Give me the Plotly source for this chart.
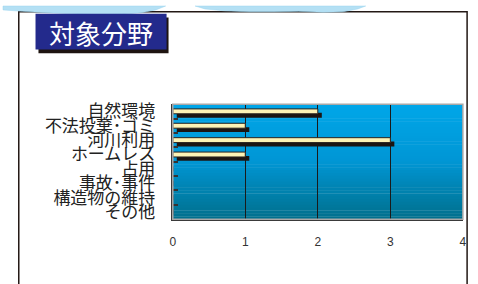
import plotly.graph_objects as go

# ---- data ----
categories = ["自然環境", "不法投棄･ゴミ", "河川利用", "ホームレス", "占用", "事故･事件", "構造物の維持", "その他"]
values = [2, 1, 3, 1, 0, 0, 0, 0]
x_ticks = [0, 1, 2, 3, 4]
title_text = "対象分野"

# ---- style ----
W, H = 478, 284
SHADOW_DX = 0.055
BAR_W = 0.34
SHADOW_DY = 0.27
JP = "Noto Sans CJK JP"


def px(x):
    return x / W


def py(y):
    return 1 - y / H


fig = go.Figure()
fig.add_trace(go.Bar(
    y=categories, x=values, base=SHADOW_DX, orientation="h",
    width=BAR_W, offset=-BAR_W / 2 + SHADOW_DY,
    marker=dict(color="#1c1512", line=dict(width=0)),
    hoverinfo="skip", showlegend=False))
fig.add_trace(go.Bar(
    y=categories, x=values, orientation="h",
    width=BAR_W, offset=-BAR_W / 2,
    marker=dict(color="#fdf3b6", line=dict(color="#2a2420", width=1)),
    showlegend=False))

shapes = []
# gradient background of plot area
top = (0, 166, 232)
mid = (0, 150, 212)
bot = (0, 112, 142)
N = 40
for i in range(N):
    t = i / (N - 1)
    if t < 0.5:
        u = t / 0.5
        c = tuple(round(top[k] + (mid[k] - top[k]) * u) for k in range(3))
    else:
        u = (t - 0.5) / 0.5
        c = tuple(round(mid[k] + (bot[k] - mid[k]) * u) for k in range(3))
    y1 = 1 - i / N
    y0 = 1 - (i + 1) / N
    shapes.append(dict(type="rect", xref="x domain", yref="y domain",
                       x0=0, x1=1, y0=y0 - 0.002, y1=y1 + 0.002, layer="below",
                       fillcolor="rgb(%d,%d,%d)" % c, line=dict(width=0)))
# light border top/right
shapes.append(dict(type="rect", xref="x domain", yref="y domain", x0=0, x1=1, y0=0, y1=1,
                   line=dict(color="#a8a8a8", width=1.5), layer="above"))

# outer frame
shapes.append(dict(type="rect", xref="paper", yref="paper",
                   x0=px(16), x1=px(471), y0=py(292), y1=py(5),
                   line=dict(color="#231815", width=1.5)))

# cloud decorations
def path(points):
    s = "M %f,%f" % (px(points[0][0]), py(points[0][1]))
    for (x, y) in points[1:]:
        s += " L %f,%f" % (px(x), py(y))
    return s + " Z"

cloud1 = [(0, -1), (0, 3), (20, 4.5), (45, 6), (70, 7), (95, 8), (120, 7.5), (140, 6), (155, 3), (165, -1)]
cloud2 = [(195, -1), (205, 2), (225, 4), (250, 5), (275, 5), (300, 4.5), (325, 5.5), (345, 5), (360, 2), (368, -1)]
for c in (cloud1, cloud2):
    shapes.append(dict(type="path", xref="paper", yref="paper", path=path(c),
                       fillcolor="#b4e0f4", line=dict(color="#9ad4ef", width=0.5)))

# title box and shadow
shapes.append(dict(type="rect", xref="paper", yref="paper",
                   x0=px(36), x1=px(168), y0=py(48), y1=py(11),
                   fillcolor="#1e1410", line=dict(width=0)))
shapes.append(dict(type="rect", xref="paper", yref="paper",
                   x0=px(33), x1=px(166), y0=py(44), y1=py(7),
                   fillcolor="#232a8c", line=dict(width=0)))

fig.update_layout(
    width=W, height=H,
    margin=dict(l=0, r=0, t=0, b=0),
    paper_bgcolor="white",
    plot_bgcolor="rgba(0,0,0,0)",
    barmode="overlay",
    shapes=shapes,
    annotations=[dict(text=title_text, x=px(99.5), y=py(26), xref="paper", yref="paper",
                      xanchor="center", yanchor="middle",
                      showarrow=False, font=dict(family=JP, size=26, color="white"))],
    xaxis=dict(domain=[px(172.3), px(466.7)], range=[0, 4], tickvals=x_ticks,
               showgrid=True, gridcolor="#1a1a1a", gridwidth=1,
               showline=True, linecolor="#3a3a3a", linewidth=2,
               ticks="", ticklabelstandoff=10, zeroline=False,
               tickfont=dict(family="Liberation Sans, Arial", size=12, color="#333")),
    yaxis=dict(domain=[py(220), py(100.7)], type="category",
               categoryorder="array", categoryarray=categories, autorange="reversed",
               tickmode="array", tickvals=categories, ticktext=categories,
               showline=True, linecolor="#3a3a3a", linewidth=2,
               ticks="inside", tickson="boundaries", ticklen=5, tickcolor="#333", tickwidth=1.5,
               showgrid=False, ticklabelstandoff=12,
               tickfont=dict(family=JP, size=17, color="#222")),
)

fig.write_html("out.html", config={"displayModeBar": False},
               post_script="document.body.style.margin='0';document.body.style.overflow='hidden';")
